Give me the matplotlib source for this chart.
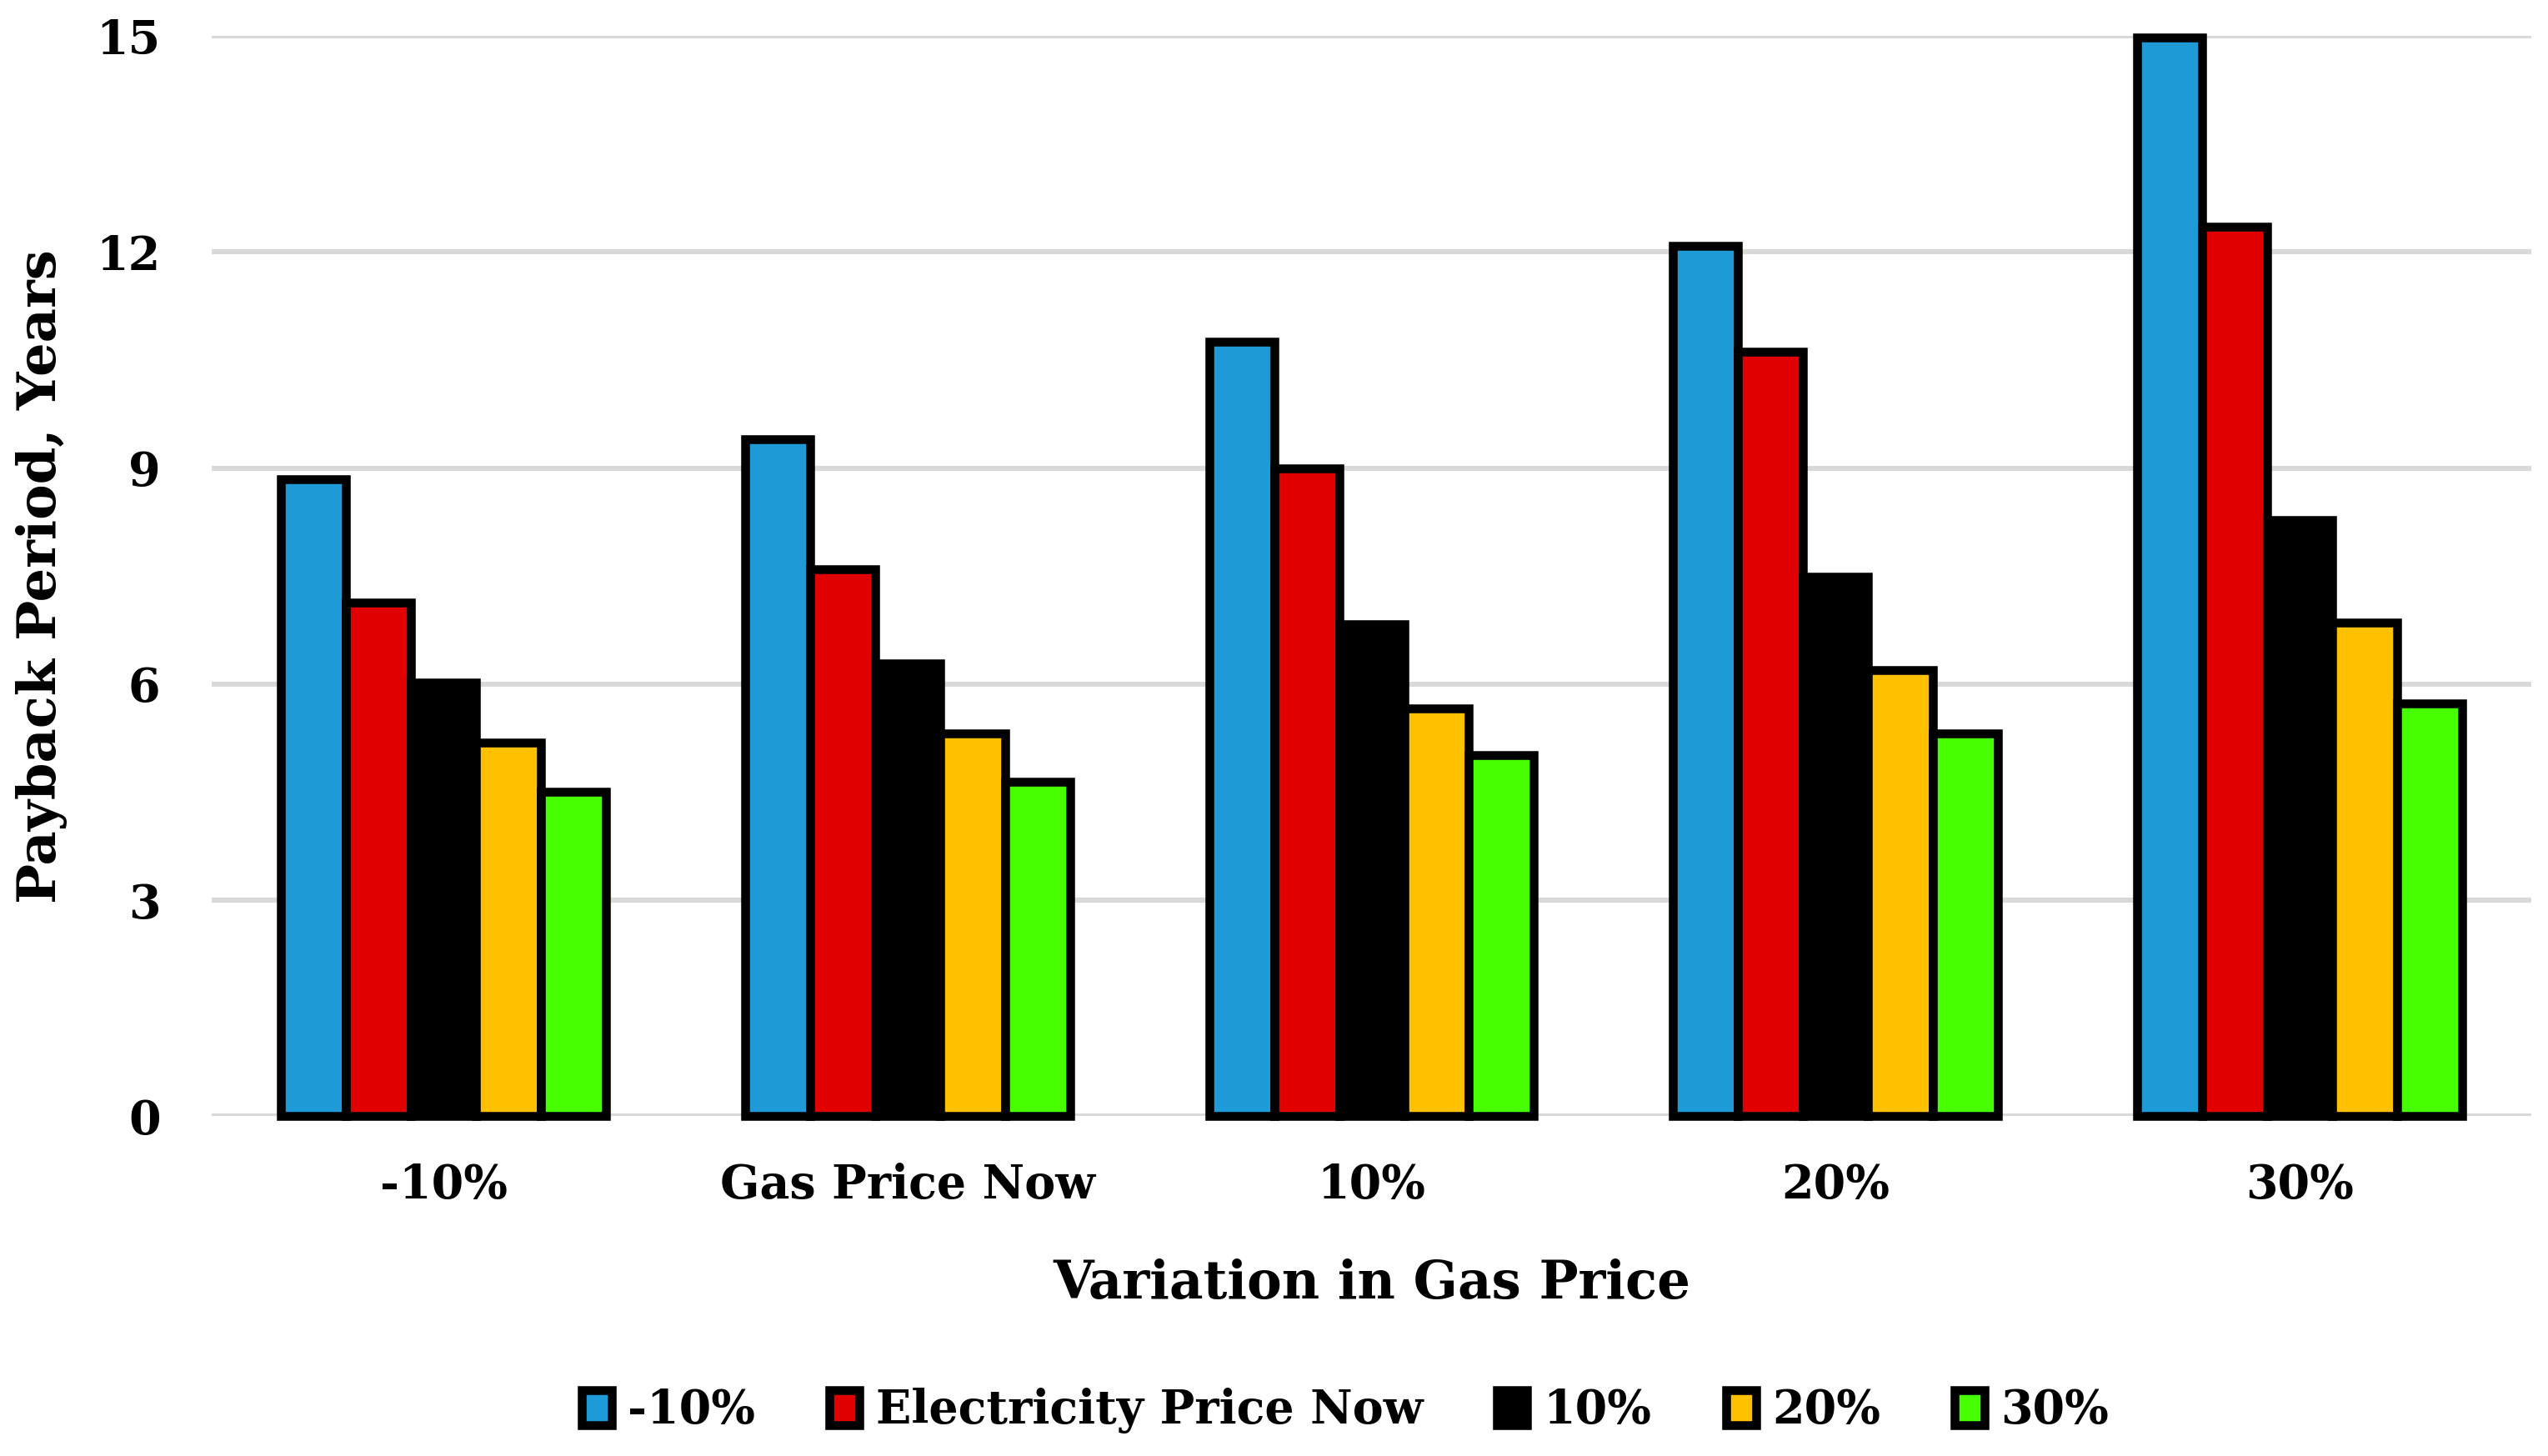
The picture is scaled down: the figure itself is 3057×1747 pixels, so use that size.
import numpy as np
import matplotlib
matplotlib.use("Agg")
import matplotlib.pyplot as plt

# payback period (years)
gas_labels = ["-10%", "Gas Price Now", "10%", "20%", "30%"]
elec_labels = ["-10%", "Electricity Price Now", "10%", "20%", "30%"]
elec_minus10 = [8.85, 9.40, 10.75, 12.08, 14.98]
elec_now = [7.13, 7.60, 9.00, 10.62, 12.35]
elec_plus10 = [6.02, 6.29, 6.83, 7.49, 8.28]
elec_plus20 = [5.19, 5.32, 5.66, 6.20, 6.86]
elec_plus30 = [4.51, 4.65, 5.01, 5.32, 5.73]
colors = ["#1E9BD7", "#E00000", "#000000", "#FFC000", "#47FF00"]

plt.rcParams["font.family"] = ["DejaVu Serif"]
plt.rcParams["font.weight"] = "bold"

fig = plt.figure(figsize=(15.285, 8.735), dpi=200)
ax = fig.add_axes([0.083, 0.2333, 0.9106, 0.7421])

series = [elec_minus10, elec_now, elec_plus10, elec_plus20, elec_plus30]
x = np.arange(len(gas_labels))
w = 0.14
for i, (vals, c, lab) in enumerate(zip(series, colors, elec_labels)):
    ax.bar(x + (i - 2) * w, vals, width=w, color=c, edgecolor="black",
           linewidth=3.8, label=lab, zorder=3, clip_on=False)

ax.set_xlim(-0.5, 4.5)
ax.set_ylim(0, 15)
ax.set_yticks([0, 3, 6, 9, 12, 15])
ax.set_xticks(x)
ax.set_xticklabels(gas_labels, fontsize=20, fontweight="bold")
ax.tick_params(axis="y", labelsize=20, length=0, pad=22)
ax.tick_params(axis="x", length=0, pad=20)
ax.grid(axis="y", color="#d9d9d9", linewidth=2.2, zorder=0)
for s in ax.spines.values():
    s.set_visible(False)

ax.set_ylabel("Payback Period, Years", fontsize=23, fontweight="bold")
ax.yaxis.set_label_coords(-0.062, 0.5)
ax.text(0.5, -0.155, "Variation in Gas Price", transform=ax.transAxes,
        ha="center", va="center", fontsize=22.5, fontweight="bold")

fig.legend(loc="center", bbox_to_anchor=(0.528, 0.031), ncol=5, frameon=False,
           fontsize=20, handlelength=0.65, handleheight=0.8, handletextpad=0.35,
           columnspacing=1.6)

fig.savefig("out.png", dpi=200)
